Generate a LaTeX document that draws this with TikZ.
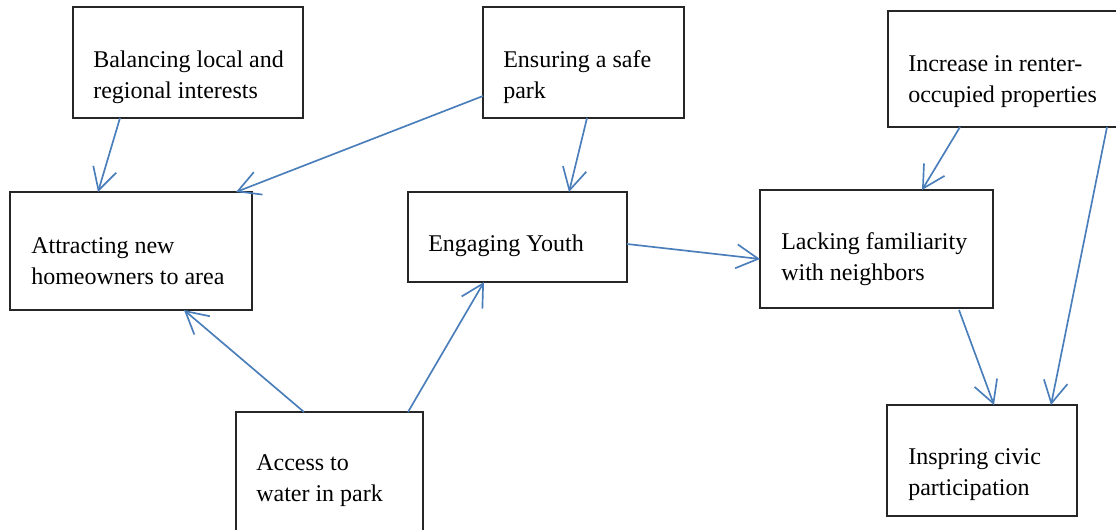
\documentclass[tikz,border=0pt]{standalone}
\usepackage{fontspec}
\setmainfont{Liberation Serif}
\usetikzlibrary{arrows.meta,calc}
\definecolor{arrowblue}{HTML}{4A7EBB}
\tikzset{
  box/.style={draw=black!85, line width=0.8pt, inner sep=0pt, outer sep=0pt, anchor=north west, fill=white},
  lbl/.style={anchor=base west, align=left, inner sep=0pt, font=\fontsize{18pt}{23.25pt}\selectfont},
  conn/.style={draw=arrowblue, line width=1.25pt, -{Straight Barb[length=16.5pt,width=18pt,line width=1.25pt]}}
}
\begin{document}
\begin{tikzpicture}[x=0.75pt,y=-0.75pt]
\useasboundingbox (0,0) rectangle (1116,529);
\clip (0,0) rectangle (1116,529);
\fill[white] (0,0) rectangle (1116,529);
% boxes
\node[box, minimum width={230*0.75pt}, minimum height={111*0.75pt}] (bal) at (73,7) {};
\node[box, minimum width={201*0.75pt}, minimum height={111*0.75pt}] (ens) at (483,7) {};
\node[box, minimum width={237*0.75pt}, minimum height={116*0.75pt}] (inc) at (888,11) {};
\node[box, minimum width={242*0.75pt}, minimum height={118*0.75pt}] (att) at (10,192) {};
\node[box, minimum width={219*0.75pt}, minimum height={90*0.75pt}] (eng) at (408,192) {};
\node[box, minimum width={233*0.75pt}, minimum height={118*0.75pt}] (lac) at (760,190) {};
\node[box, minimum width={187*0.75pt}, minimum height={128*0.75pt}] (acc) at (236,412) {};
\node[box, minimum width={190*0.75pt}, minimum height={111*0.75pt}] (ins) at (887,405) {};
% texts (anchor = baseline of the last line)
\node[lbl] (balt) at (93,98) {Balancing local and\\regional interests};
\node[lbl] (enst) at (503,98) {Ensuring a safe\\park};
\node[lbl] (inct) at (908,102) {Increase in renter-\\occupied properties};
\node[lbl] (attt) at (31,284) {Attracting new\\homeowners to area};
\node[lbl] (engt) at (428,251) {Engaging Youth};
\node[lbl] (lact) at (781,280) {Lacking familiarity\\with neighbors};
\node[lbl] (acct) at (256,501) {Access to\\water in park};
\node[lbl] (inst) at (908,495) {Inspring civic\\participation};
% connectors
\draw[conn] ($(bal.south west)+(47,0)$) -- ($(att.north west)+(88,0)$);
\draw[conn] ($(ens.north west)+(0,89)$) -- ($(att.north east)+(-16,0)$);
\draw[conn] ($(ens.south west)+(104,0)$) -- ($(eng.north west)+(161,0)$);
\draw[conn] ($(acc.north west)+(68,0)$) -- ($(att.south west)+(174,0)$);
\draw[conn] ($(acc.north west)+(172,0)$) -- ($(eng.south west)+(76,0)$);
\draw[conn] ($(eng.north east)+(0,52)$) -- ($(lac.north west)+(0,69)$);
\draw[conn] ($(inc.south west)+(72,0)$) -- ($(lac.north west)+(162,0)$);
\draw[conn] ($(inc.south west)+(219,0)$) -- ($(ins.north west)+(164,0)$);
\draw[conn] ($(lac.south west)+(199,2)$) -- ($(ins.north west)+(107,0)$);
\end{tikzpicture}
\end{document}
